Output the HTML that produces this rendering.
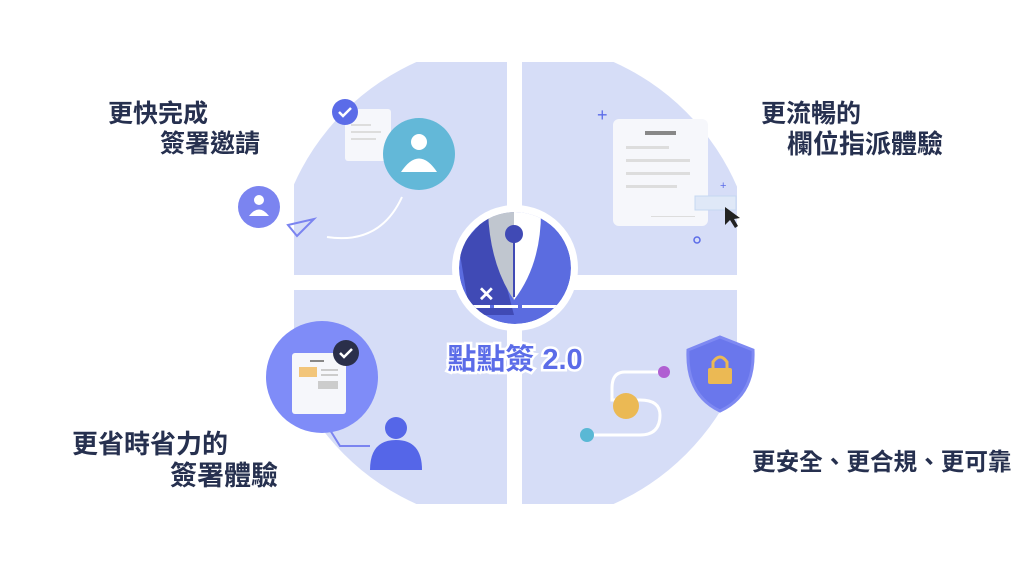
<!DOCTYPE html>
<html><head><meta charset="utf-8"><style>
body{margin:0;width:1024px;height:569px;background:#fff;overflow:hidden;font-family:"Liberation Sans","Noto Sans CJK TC",sans-serif}
.t{position:absolute;font-weight:700;color:#26304f;font-size:25px;line-height:30px;white-space:nowrap;font-family:"Liberation Sans","Noto Sans CJK TC",sans-serif}
</style></head><body>
<svg width="1024" height="569" style="position:absolute;left:0;top:0">
<defs><clipPath id="c"><rect x="294" y="62" width="443" height="442"/></clipPath>
<clipPath id="lc"><circle cx="515" cy="268" r="56"/></clipPath></defs>
<g clip-path="url(#c)"><circle cx="515" cy="283" r="242" fill="#d6ddf7"/></g>
<rect x="507" y="50" width="15" height="470" fill="#fff"/>
<rect x="280" y="275" width="470" height="15" fill="#fff"/>
<!-- TL -->
<path d="M327 237 Q380 245 402 197" stroke="#fff" stroke-width="2" fill="none"/>
<path d="M288 225 L314 219 L297 236 Z" fill="none" stroke="#7b84f0" stroke-width="2"/>
<circle cx="259" cy="207" r="21" fill="#7b84f0"/>
<circle cx="259" cy="200" r="5" fill="#fff"/><path d="M249 216 Q259 203 269 216Z" fill="#fff"/>
<rect x="345" y="109" width="46" height="52" rx="3" fill="#f6f7fb"/>
<rect x="351" y="124" width="20" height="2" fill="#ddd"/><rect x="351" y="131" width="30" height="2" fill="#ddd"/><rect x="351" y="138" width="25" height="2" fill="#ddd"/>
<circle cx="419" cy="154" r="36" fill="#63b8d8"/>
<circle cx="419" cy="142" r="8" fill="#fff"/><path d="M401 172 Q419 145 437 172Z" fill="#fff"/>
<circle cx="345" cy="112" r="13" fill="#5b6ce8"/><path d="M339 112 L343 116 L351 108" stroke="#fff" stroke-width="2.5" fill="none"/>
<!-- TR -->
<text x="597" y="121" fill="#5b6ce8" font-size="18">+</text>
<text x="720" y="189" fill="#5b6ce8" font-size="11">+</text>
<rect x="613" y="119" width="95" height="107" rx="6" fill="#f6f7fb"/>
<rect x="645" y="131" width="31" height="4" fill="#888"/>
<rect x="626" y="146" width="43" height="3" fill="#ddd"/><rect x="626" y="159" width="64" height="3" fill="#ddd"/><rect x="626" y="172" width="64" height="3" fill="#ddd"/><rect x="626" y="185" width="51" height="3" fill="#ddd"/>
<rect x="651" y="216" width="44" height="1" fill="#ddd"/>
<rect x="695" y="196" width="41" height="14" fill="#dfe8f7" stroke="#c6d8f0"/>
<path d="M725 207 L725 225 L730 220 L735 228 L738 226 L734 219 L740 218Z" fill="#222"/>
<circle cx="697" cy="240" r="3" fill="none" stroke="#5b6ce8" stroke-width="1.5"/>
<!-- center logo -->
<circle cx="515" cy="268" r="63" fill="#fff"/>
<g clip-path="url(#lc)"><circle cx="515" cy="268" r="56" fill="#5b6ce0"/>
<path d="M459 248 L488 215 L514 315 L470 315Z" fill="#404ab5"/>
<path d="M488 212 L514 212 L514 300 Q490 265 488 212Z" fill="#c0c6cf"/>
<path d="M514 212 L541 212 Q541 265 514 300Z" fill="#fff"/>
<line x1="514" y1="235" x2="514" y2="297" stroke="#404ab5" stroke-width="2"/>
<circle cx="514" cy="234" r="9" fill="#404ab5"/>
<rect x="470" y="305" width="90" height="3" fill="#fff"/><rect x="490" y="305" width="4" height="3" fill="#5b6ce0"/><rect x="518" y="305" width="4" height="3" fill="#5b6ce0"/>
<text x="478" y="301" fill="#fff" font-size="20" font-weight="700" font-family="Liberation Sans">✕</text></g>
<!-- BL -->
<path d="M330 430 L340 446 L370 446" stroke="#7b84f0" stroke-width="2" fill="none"/>
<circle cx="322" cy="377" r="56" fill="#7f8cf8"/>
<rect x="292" y="353" width="54" height="61" rx="3" fill="#f6f7fb"/>
<rect x="310" y="360" width="14" height="2" fill="#888"/>
<rect x="299" y="367" width="18" height="10" fill="#f2c57a"/>
<rect x="321" y="369" width="17" height="2" fill="#ccc"/><rect x="321" y="374" width="17" height="2" fill="#ccc"/>
<rect x="318" y="381" width="20" height="8" fill="#ccc"/>
<circle cx="346" cy="353" r="13" fill="#2a2f4a"/><path d="M340 353 L344 357 L352 349" stroke="#fff" stroke-width="2.5" fill="none"/>
<circle cx="396" cy="428" r="11" fill="#5566e8"/><path d="M370 470 Q370 440 396 440 Q422 440 422 470Z" fill="#5566e8"/>
<!-- BR -->
<path d="M664 372 L625 372 Q612 372 612 388 L612 400 L640 400 Q660 400 660 415 Q660 435 640 435 L588 435" stroke="#fff" stroke-width="3" fill="none"/>
<circle cx="664" cy="372" r="6" fill="#b05fd2"/>
<circle cx="626" cy="406" r="13" fill="#ebb954"/>
<circle cx="587" cy="435" r="7" fill="#5ab8d5"/>
<path d="M720 337 L753 350 Q755 395 720 411 Q686 395 688 350Z" fill="#6a77ec" stroke="#7e89f2" stroke-width="3"/>
<rect x="708" y="368" width="24" height="16" rx="2" fill="#ebb954"/>
<path d="M713 368 L713 362 Q720 352 727 362 L727 368" stroke="#ebb954" stroke-width="3" fill="none"/>
<text x="515" y="369" text-anchor="middle" font-size="29" font-weight="700" fill="#5b6ce8" stroke="#fff" stroke-width="5" paint-order="stroke" font-family="Liberation Sans,Noto Sans CJK TC,sans-serif">點點簽 2.0</text>
</svg>
<div class="t" style="left:108px;top:99px">更快完成</div>
<div class="t" style="left:160px;top:129px">簽署邀請</div>
<div class="t" style="left:761px;top:99px">更流暢的</div>
<div class="t" style="left:787px;top:129px;font-size:26px">欄位指派體驗</div>
<div class="t" style="left:72px;top:429px;font-size:26px">更省時省力的</div>
<div class="t" style="left:170px;top:461px;font-size:27px">簽署體驗</div>
<div class="t" style="left:752px;top:448px;font-size:23.6px">更安全、更合規、更可靠</div>
</body></html>
